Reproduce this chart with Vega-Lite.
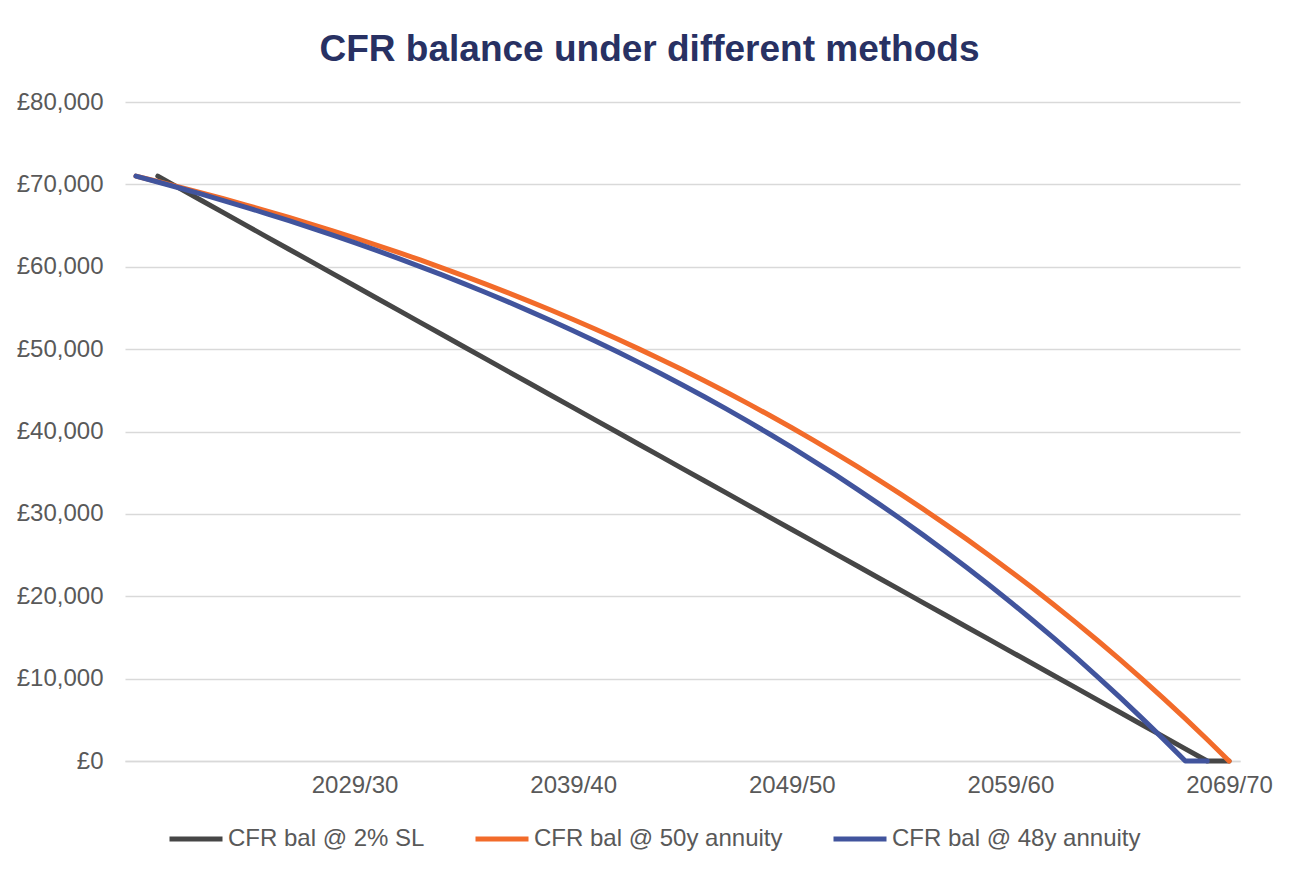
{
  "$schema": "https://vega.github.io/schema/vega-lite/v6.json",
  "width": 1115,
  "height": 659,
  "autosize": {"type": "none"},
  "padding": {"left": 125, "top": 102, "right": 50, "bottom": 111},
  "background": "white",
  "title": {
    "text": "CFR balance under different methods",
    "font": "Liberation Sans",
    "fontSize": 37,
    "fontWeight": "bold",
    "color": "#283163",
    "anchor": "middle",
    "frame": "group",
    "dx": -33,
    "offset": 21
  },
  "data": {
    "values": [
      {"year": "2019/20", "sl": null, "a50": 71000, "a48": 71000},
      {"year": "2020/21", "sl": 71000, "a50": 70343, "a48": 70291},
      {"year": "2021/22", "sl": 69521, "a50": 69667, "a48": 69561},
      {"year": "2022/23", "sl": 68042, "a50": 68970, "a48": 68811},
      {"year": "2023/24", "sl": 66563, "a50": 68255, "a48": 68039},
      {"year": "2024/25", "sl": 65083, "a50": 67519, "a48": 67246},
      {"year": "2025/26", "sl": 63604, "a50": 66761, "a48": 66430},
      {"year": "2026/27", "sl": 62125, "a50": 65983, "a48": 65590},
      {"year": "2027/28", "sl": 60646, "a50": 65182, "a48": 64727},
      {"year": "2028/29", "sl": 59167, "a50": 64358, "a48": 63839},
      {"year": "2029/30", "sl": 57688, "a50": 63511, "a48": 62925},
      {"year": "2030/31", "sl": 56208, "a50": 62640, "a48": 61986},
      {"year": "2031/32", "sl": 54729, "a50": 61743, "a48": 61020},
      {"year": "2032/33", "sl": 53250, "a50": 60822, "a48": 60026},
      {"year": "2033/34", "sl": 51771, "a50": 59874, "a48": 59004},
      {"year": "2034/35", "sl": 50292, "a50": 58899, "a48": 57953},
      {"year": "2035/36", "sl": 48813, "a50": 57896, "a48": 56872},
      {"year": "2036/37", "sl": 47333, "a50": 56865, "a48": 55760},
      {"year": "2037/38", "sl": 45854, "a50": 55804, "a48": 54616},
      {"year": "2038/39", "sl": 44375, "a50": 54713, "a48": 53440},
      {"year": "2039/40", "sl": 42896, "a50": 53591, "a48": 52231},
      {"year": "2040/41", "sl": 41417, "a50": 52437, "a48": 50986},
      {"year": "2041/42", "sl": 39938, "a50": 51250, "a48": 49707},
      {"year": "2042/43", "sl": 38458, "a50": 50029, "a48": 48391},
      {"year": "2043/44", "sl": 36979, "a50": 48773, "a48": 47037},
      {"year": "2044/45", "sl": 35500, "a50": 47482, "a48": 45645},
      {"year": "2045/46", "sl": 34021, "a50": 46154, "a48": 44213},
      {"year": "2046/47", "sl": 32542, "a50": 44788, "a48": 42740},
      {"year": "2047/48", "sl": 31063, "a50": 43383, "a48": 41226},
      {"year": "2048/49", "sl": 29583, "a50": 41938, "a48": 39668},
      {"year": "2049/50", "sl": 28104, "a50": 40452, "a48": 38066},
      {"year": "2050/51", "sl": 26625, "a50": 38923, "a48": 36418},
      {"year": "2051/52", "sl": 25146, "a50": 37351, "a48": 34723},
      {"year": "2052/53", "sl": 23667, "a50": 35734, "a48": 32980},
      {"year": "2053/54", "sl": 22188, "a50": 34071, "a48": 31187},
      {"year": "2054/55", "sl": 20708, "a50": 32361, "a48": 29343},
      {"year": "2055/56", "sl": 19229, "a50": 30601, "a48": 27447},
      {"year": "2056/57", "sl": 17750, "a50": 28792, "a48": 25496},
      {"year": "2057/58", "sl": 16271, "a50": 26931, "a48": 23490},
      {"year": "2058/59", "sl": 14792, "a50": 25017, "a48": 21427},
      {"year": "2059/60", "sl": 13313, "a50": 23049, "a48": 19305},
      {"year": "2060/61", "sl": 11833, "a50": 21025, "a48": 17122},
      {"year": "2061/62", "sl": 10354, "a50": 18942, "a48": 14878},
      {"year": "2062/63", "sl": 8875, "a50": 16801, "a48": 12569},
      {"year": "2063/64", "sl": 7396, "a50": 14598, "a48": 10194},
      {"year": "2064/65", "sl": 5917, "a50": 12333, "a48": 7752},
      {"year": "2065/66", "sl": 4438, "a50": 10003, "a48": 5240},
      {"year": "2066/67", "sl": 2958, "a50": 7607, "a48": 2657},
      {"year": "2067/68", "sl": 1479, "a50": 5142, "a48": 0},
      {"year": "2068/69", "sl": 0, "a50": 2607, "a48": 0},
      {"year": "2069/70", "sl": 0, "a50": 0, "a48": null}
    ]
  },
  "transform": [{"fold": ["sl", "a50", "a48"], "as": ["series", "value"]}],
  "mark": {"type": "line", "strokeWidth": 5, "strokeCap": "round", "strokeJoin": "round"},
  "encoding": {
    "x": {
      "field": "year",
      "type": "ordinal",
      "sort": null,
      "scale": {"type": "point", "padding": 0.5},
      "axis": {
        "title": null,
        "labelAngle": 0,
        "labelOverlap": false,
        "labelExpr": "(datum.value == '2029/30' || datum.value == '2039/40' || datum.value == '2049/50' || datum.value == '2059/60' || datum.value == '2069/70') ? datum.value : ''",
        "ticks": false,
        "tickSize": 0,
        "domain": true,
        "domainColor": "#D9D9D9",
        "domainWidth": 1.5,
        "grid": false,
        "labelFont": "Liberation Sans",
        "labelFontSize": 24,
        "labelColor": "#595959",
        "labelPadding": 12
      }
    },
    "y": {
      "field": "value",
      "type": "quantitative",
      "scale": {"domain": [0, 80000], "nice": false},
      "axis": {
        "title": null,
        "values": [0, 10000, 20000, 30000, 40000, 50000, 60000, 70000, 80000],
        "labelExpr": "'£' + format(datum.value, ',')",
        "domain": false,
        "ticks": false,
        "tickSize": 0,
        "labelPadding": 22,
        "grid": true,
        "gridColor": "#D9D9D9",
        "gridWidth": 1.5,
        "labelFont": "Liberation Sans",
        "labelFontSize": 24,
        "labelColor": "#595959"
      }
    },
    "color": {
      "field": "series",
      "type": "nominal",
      "scale": {"domain": ["sl", "a50", "a48"], "range": ["#464646", "#F26B2A", "#41549D"]},
      "legend": {
        "title": null,
        "orient": "none",
        "legendX": 42,
        "legendY": 708,
        "direction": "horizontal",
        "symbolType": "stroke",
        "symbolSize": 2809,
        "symbolStrokeWidth": 5,
        "labelFont": "Liberation Sans",
        "labelFontSize": 24,
        "labelColor": "#595959",
        "labelOffset": 3,
        "labelLimit": 0,
        "columnPadding": 40,
        "labelExpr": "datum.value == 'sl' ? 'CFR bal @ 2% SL' : datum.value == 'a50' ? 'CFR bal @ 50y annuity' : 'CFR bal @ 48y annuity'"
      }
    }
  },
  "config": {"view": {"stroke": null}}
}
